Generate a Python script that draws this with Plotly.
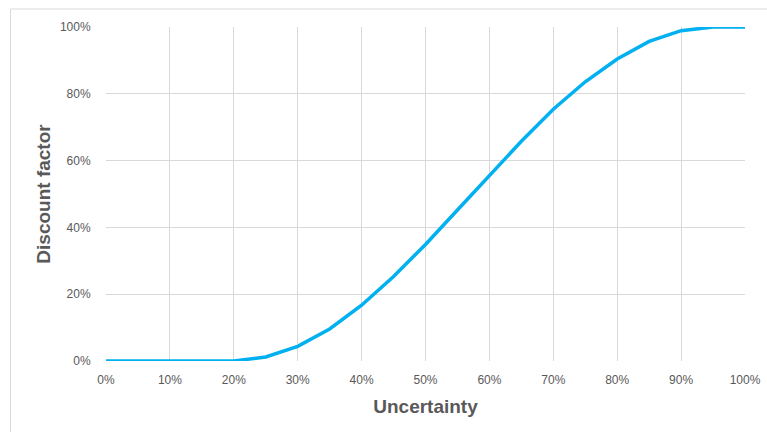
import plotly.graph_objects as go

# Uncertainty levels (fraction) and the matching discount factor
uncertainty = [0.00, 0.05, 0.10, 0.15, 0.20, 0.25, 0.30, 0.35, 0.40, 0.45, 0.50,
               0.55, 0.60, 0.65, 0.70, 0.75, 0.80, 0.85, 0.90, 0.95, 1.00]
discount = [0.000, 0.000, 0.000, 0.000, 0.000, 0.012, 0.044, 0.096, 0.167, 0.253, 0.349,
            0.452, 0.556, 0.658, 0.754, 0.836, 0.904, 0.957, 0.989, 1.000, 1.000]

x_ticks = [i / 10 for i in range(11)]
y_ticks = [i / 5 for i in range(6)]

LINE_COLOR = "#00B0F0"
GRID_COLOR = "#D9D9D9"
TEXT_COLOR = "#595959"
FONT = "Liberation Sans, Arial, sans-serif"

fig = go.Figure()
fig.add_trace(go.Scatter(
    x=uncertainty, y=discount, mode="lines",
    line=dict(color=LINE_COLOR, width=3.5),
    hoverinfo="skip", showlegend=False,
))

W, H = 767, 432
L, R, T, B = 106, 22, 27, 71
pw, ph = W - L - R, H - T - B

def px_x(p):
    return (p - L) / pw

def px_y(p):
    return (H - B - p) / ph

fig.update_layout(
    width=W, height=H,
    margin=dict(l=L, r=R, t=T, b=B, autoexpand=False),
    paper_bgcolor="white", plot_bgcolor="white",
    font=dict(family=FONT, color=TEXT_COLOR, size=12),
    xaxis=dict(
        range=[0, 1], tickvals=x_ticks, tickformat=".0%",
        showgrid=True, gridcolor=GRID_COLOR, gridwidth=1,
        zeroline=False, showline=False, automargin=False,
        ticks="outside", ticklen=8, tickcolor="rgba(0,0,0,0)",
        tickfont=dict(size=12, color=TEXT_COLOR),
        title=dict(text="<b>Uncertainty</b>", font=dict(size=19, color=TEXT_COLOR), standoff=13),
    ),
    yaxis=dict(
        range=[0, 1], tickvals=y_ticks, tickformat=".0%",
        showgrid=True, gridcolor=GRID_COLOR, gridwidth=1,
        zeroline=False, showline=False, automargin=False,
        ticks="outside", ticklen=12, tickcolor="rgba(0,0,0,0)",
        tickfont=dict(size=12, color=TEXT_COLOR),
        title=dict(text="<b>Discount factor</b>", font=dict(size=19, color=TEXT_COLOR), standoff=4),
    ),
    shapes=[
        # chart frame (left and top edges)
        dict(type="line", xref="paper", yref="paper",
             x0=px_x(10.5), x1=px_x(10.5), y0=px_y(9), y1=px_y(440),
             line=dict(color=GRID_COLOR, width=1), layer="below"),
        dict(type="line", xref="paper", yref="paper",
             x0=px_x(10.5), x1=px_x(780), y0=px_y(9), y1=px_y(9),
             line=dict(color=GRID_COLOR, width=1), layer="below"),
    ],
)

fig.write_html("out.html")
